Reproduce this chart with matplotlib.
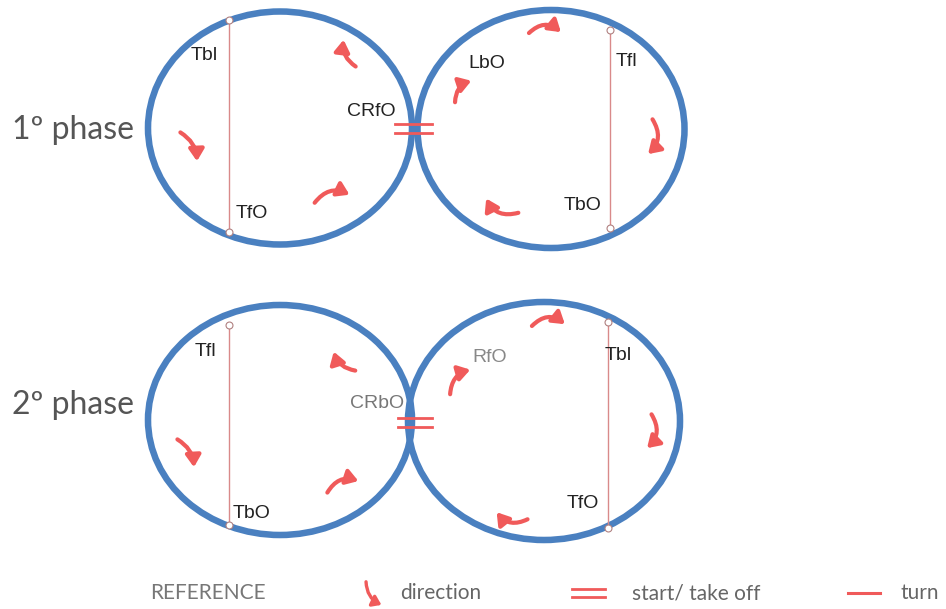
import matplotlib
matplotlib.use("Agg")
import matplotlib.pyplot as plt
from matplotlib.patches import Ellipse, FancyArrowPatch

BLUE = "#4a80c0"
RED = "#f05a5a"
PINK = "#d98a8a"

# rink circles: centre x, centre y, width, height (pixel space)
circle_cx = [280, 551, 280, 544]
circle_cy = [128, 129, 420, 421]
circle_w = [264, 267, 264, 272]
circle_h = [233, 238, 230, 238]

# thin "turn" lines: x, y top, y bottom
turn_x = [229, 610, 229, 608]
turn_top = [20, 30, 325, 322]
turn_bot = [232, 228, 525, 528]

# element labels
label_text = ["Tbl", "TfO", "CRfO", "LbO", "Tfl", "TbO",
              "Tfl", "TbO", "CRbO", "RfO", "Tbl", "TfO"]
label_x = [191, 236, 347, 468, 616, 564, 195, 233, 350, 472, 605, 567]
label_y = [55, 214, 112, 64, 62, 206, 352, 513, 404, 357, 356, 504]
label_col = ["#222222"] * 8 + ["#777777", "#888888", "#222222", "#222222"]

phase_text = ["1º phase", "2º phase"]
phase_y = [130, 405]

# start marks "=": x from, x to, y centre
start_x0 = [395, 398]
start_x1 = [432, 432]
start_y = [128, 422]

# direction arrows: start -> end, curvature
arrow_x0 = [358, 178, 313, 527, 455, 651, 521, 358, 175, 326, 530, 450, 650, 530]
arrow_y0 = [68, 131, 205, 35, 105, 117, 212, 371, 438, 495, 328, 397, 412, 518]
arrow_x1 = [344, 197, 352, 563, 474, 646, 485, 333, 194, 361, 567, 473, 645, 495]
arrow_y1 = [37, 164, 196, 34, 80, 156, 196, 349, 470, 482, 326, 369, 450, 510]
arrow_rad = [0.35, 0.3, 0.45, 0.5, 0.4, 0.45, 0.45, 0.35, 0.3, 0.45, 0.5, 0.4, 0.45, 0.45]

fig = plt.figure(figsize=(9.46, 6.09), dpi=100)
ax = fig.add_axes([0, 0, 1, 1])
ax.set_xlim(0, 946)
ax.set_ylim(609, 0)
ax.axis("off")

for cx, cy, w, h in zip(circle_cx, circle_cy, circle_w, circle_h):
    ax.add_patch(Ellipse((cx, cy), w, h, fill=False, ec=BLUE, lw=4.7, zorder=2))

for x, y0, y1 in zip(turn_x, turn_top, turn_bot):
    ax.plot([x, x], [y0, y1], color=PINK, lw=1.0, zorder=3)
    ax.plot([x, x], [y0, y1], ls="none", marker="o", ms=5, mfc="white",
            mec="#b08080", mew=0.8, zorder=4)

for t, x, y, c in zip(label_text, label_x, label_y, label_col):
    ax.text(x, y, t, fontsize=14, color=c, family="Liberation Sans",
            ha="left", va="center", zorder=5)

for t, y in zip(phase_text, phase_y):
    ax.text(12, y, t, fontsize=23, color="#555555", family="Lato",
            ha="left", va="center")

for x0, x1, y in zip(start_x0, start_x1, start_y):
    for dy in (-4.5, 4.5):
        ax.plot([x0, x1], [y + dy, y + dy], color=RED, lw=2.0, zorder=6)

for x0, y0, x1, y1, r in zip(arrow_x0, arrow_y0, arrow_x1, arrow_y1, arrow_rad):
    ax.add_patch(FancyArrowPatch((x0, y0), (x1, y1),
                                 connectionstyle=f"arc3,rad={-r}",
                                 arrowstyle="-|>,head_length=7,head_width=4.5",
                                 color=RED, lw=3.0, mutation_scale=1, zorder=6))

# legend row
ax.text(150, 593, "REFERENCE", fontsize=15, color="#777777", family="Lato",
        ha="left", va="center")
ax.add_patch(FancyArrowPatch((366, 579), (384, 606), connectionstyle="arc3,rad=0.35",
                             arrowstyle="-|>,head_length=5,head_width=3.5",
                             color=RED, lw=2.4, mutation_scale=1))
ax.text(400, 593, "direction", fontsize=15, color="#666666", family="Lato",
        ha="left", va="center")
for dy in (-4, 4):
    ax.plot([572, 605], [593 + dy, 593 + dy], color=RED, lw=2.0)
ax.text(632, 593, "start/ take off", fontsize=15, color="#666666", family="Lato",
        ha="left", va="center")
ax.plot([848, 880], [593, 593], color=RED, lw=2.2)
ax.text(900, 593, "turn", fontsize=15, color="#666666", family="Lato",
        ha="left", va="center")

fig.savefig("out.png", dpi=100, facecolor="white")
